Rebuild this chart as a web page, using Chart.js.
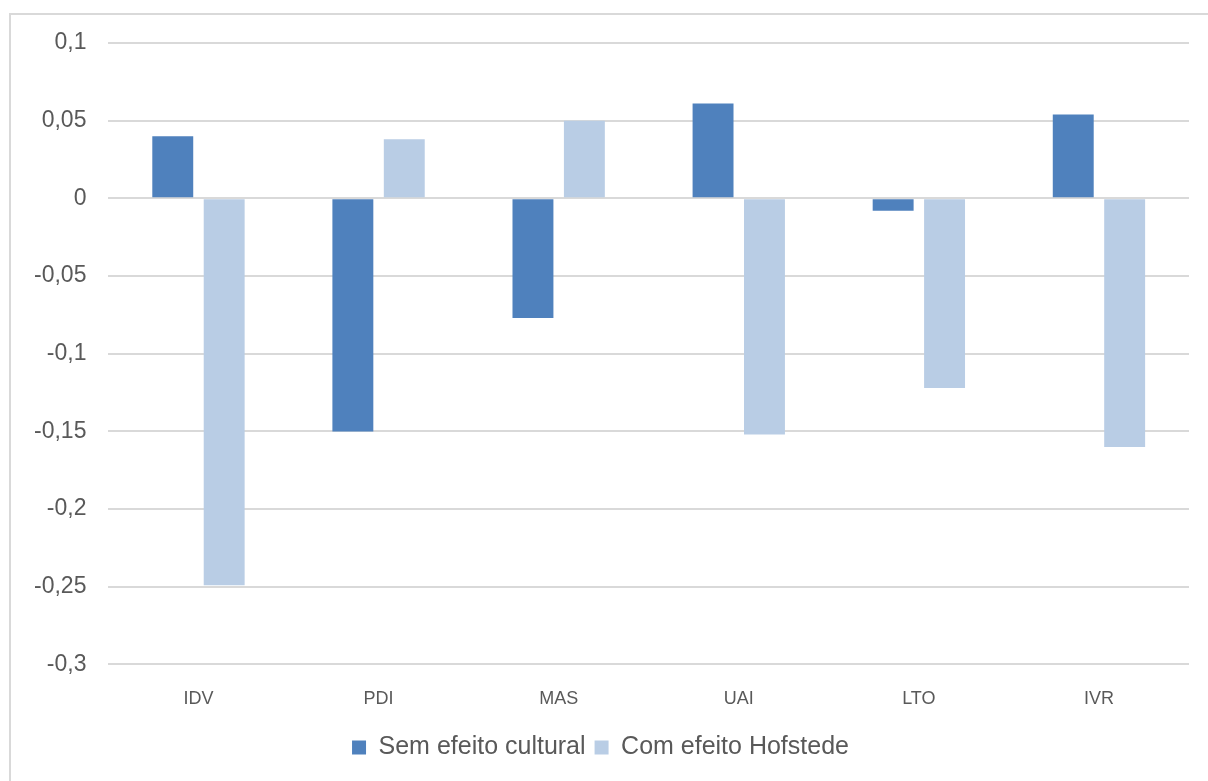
<!DOCTYPE html>
<html>
<head>
<meta charset="utf-8">
<script src="https://cdn.jsdelivr.net/npm/chart.js@4.4.1/dist/chart.umd.min.js"></script>
<style>
  html, body { margin: 0; padding: 0; background: #fff; overflow: hidden; }
  #frame {
    position: absolute; left: 9px; top: 13px;
    width: 1240px; height: 820px;
    border: 2px solid #d9d9d9;
  }
  #wrap { position: absolute; left: 0; top: 0; width: 1208px; height: 781px; }
</style>
</head>
<body>
<div id="frame"></div>
<div id="wrap"><canvas id="hofstedeChart" width="1208" height="781"></canvas></div>
<script>
const dimensions = ['IDV', 'PDI', 'MAS', 'UAI', 'LTO', 'IVR'];
const semEfeito = [0.040, -0.150, -0.077, 0.061, -0.008, 0.054];
const comHofstede = [-0.249, 0.038, 0.050, -0.152, -0.122, -0.160];
const yTicks = [0.1, 0.05, 0, -0.05, -0.1, -0.15, -0.2, -0.25, -0.3];

const textGrey = '#595959';

new Chart(document.getElementById('hofstedeChart').getContext('2d'), {
  type: 'bar',
  data: {
    labels: dimensions,
    datasets: [
      {
        label: 'Sem efeito cultural',
        data: semEfeito,
        backgroundColor: '#4f81bd',
        categoryPercentage: 0.571,
        barPercentage: 0.796
      },
      {
        label: 'Com efeito Hofstede',
        data: comHofstede,
        backgroundColor: '#b9cde5',
        categoryPercentage: 0.571,
        barPercentage: 0.796
      }
    ]
  },
  options: {
    responsive: false,
    animation: false,
    layout: { padding: { left: 12, right: 19, top: 43, bottom: 11 } },
    plugins: {
      tooltip: { enabled: false },
      legend: {
        position: 'bottom',
        labels: {
          color: textGrey,
          font: { family: 'Liberation Sans', size: 25 },
          boxWidth: 14,
          boxHeight: 14,
          padding: 9
        }
      }
    },
    scales: {
      x: {
        grid: { display: false },
        border: { display: false },
        ticks: {
          color: textGrey,
          font: { family: 'Liberation Sans', size: 18 },
          padding: 16
        }
      },
      y: {
        min: -0.3,
        max: 0.1,
        afterBuildTicks: function(axis) {
          axis.ticks = yTicks.map(v => ({ value: v }));
        },
        grid: { color: '#d9d9d9', lineWidth: 2, drawTicks: false },
        border: { display: false },
        ticks: {
          color: textGrey,
          font: { family: 'Liberation Sans', size: 23 },
          padding: 22,
          callback: function(v) {
            return String(+Number(v).toFixed(2)).replace('.', ',');
          }
        }
      }
    }
  }
});
</script>
</body>
</html>
